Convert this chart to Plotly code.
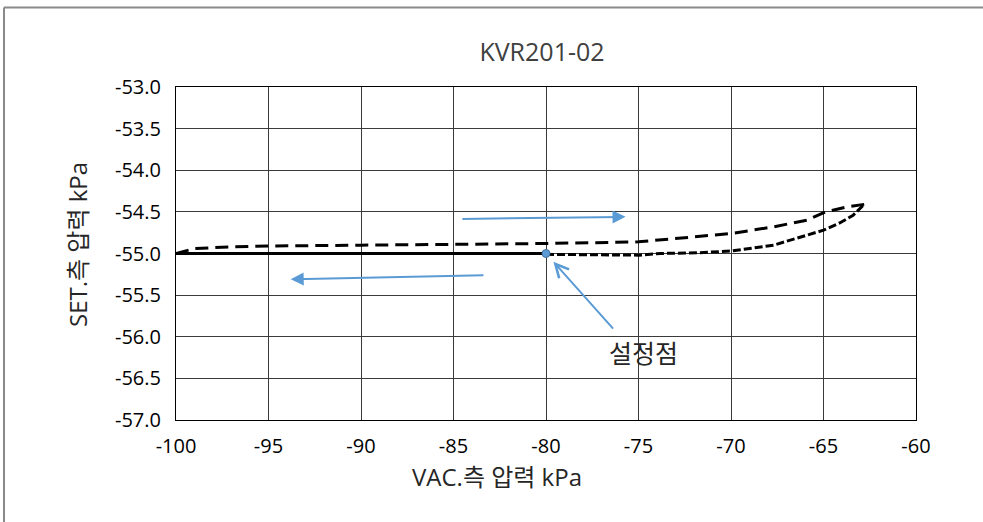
import plotly.graph_objects as go

# Data
solid_x = [-100, -90, -80]
solid_y = [-55.0, -55.0, -55.0]

up_x = [-100, -99, -97, -95, -90, -85, -80, -75, -72.7, -70, -67.7, -65.9, -64.9, -63.7, -62.8]
up_y = [-55.0, -54.94, -54.92, -54.91, -54.90, -54.89, -54.88, -54.86, -54.81, -54.76, -54.68, -54.60, -54.50, -54.44, -54.41]

lo_x = [-80, -77, -75, -73.8, -71.7, -70, -67.7, -65.9, -65.0, -64.1, -63.4, -62.8]
lo_y = [-55.01, -55.02, -55.02, -55.0, -54.99, -54.97, -54.90, -54.78, -54.72, -54.63, -54.54, -54.41]

set_x = [-80]
set_y = [-55.0]

x_ticks = [-100, -95, -90, -85, -80, -75, -70, -65, -60]
x_ticklabels = ["-100", "-95", "-90", "-85", "-80", "-75", "-70", "-65", "-60"]
y_ticks = [-57.0, -56.5, -56.0, -55.5, -55.0, -54.5, -54.0, -53.5, -53.0]
y_ticklabels = ["-57.0", "-56.5", "-56.0", "-55.5", "-55.0", "-54.5", "-54.0", "-53.5", "-53.0"]

title = "KVR201-02"
x_title = "VAC.측 압력 kPa"
y_title = "SET.측 압력 kPa"
note = "설정점"

FONT = "Open Sans, Noto Sans CJK KR, sans-serif"
BLUE = "#5b9bd5"

fig = go.Figure()
fig.add_trace(go.Scatter(x=up_x, y=up_y, mode="lines",
                         line=dict(color="black", width=3, dash="13px,7px")))
fig.add_trace(go.Scatter(x=lo_x, y=lo_y, mode="lines",
                         line=dict(color="black", width=3, dash="8px,3px")))
fig.add_trace(go.Scatter(x=solid_x, y=solid_y, mode="lines",
                         line=dict(color="black", width=3)))
fig.add_trace(go.Scatter(x=set_x, y=set_y, mode="markers",
                         marker=dict(color=BLUE, size=8, line=dict(color="#41719c", width=1))))

arrows = [
    # (head_x, head_y, tail_x, tail_y, head)
    (-75.7, -54.56, -84.6, -54.585, 2),
    (-93.8, -55.31, -83.3, -55.26, 2),
    (-79.6, -55.10, -76.3, -55.92, 5),
]
for hx, hy, tx, ty, hd in arrows:
    fig.add_annotation(x=hx, y=hy, ax=tx, ay=ty, xref="x", yref="y", axref="x", ayref="y",
                       text="", showarrow=True, arrowhead=hd, arrowsize=1.3,
                       arrowwidth=2, arrowcolor=BLUE)

fig.add_annotation(x=-74.75, y=-56.2, xref="x", yref="y", text=note, showarrow=False,
                   xanchor="center", yanchor="middle",
                   font=dict(family=FONT, size=25, color="#262626"))

fig.add_annotation(x=(497 - 176) / 740, y=(420 - 476) / 333, xref="paper", yref="paper",
                   text=x_title, showarrow=False, xanchor="center", yanchor="middle",
                   font=dict(family=FONT, size=24, color="#262626"))
fig.add_annotation(x=(77 - 176) / 740, y=(420 - 245) / 333, xref="paper", yref="paper",
                   text=y_title, showarrow=False, textangle=-90, xanchor="center", yanchor="middle",
                   font=dict(family=FONT, size=24, color="#262626"))

# outer frame
fig.add_shape(type="line", xref="paper", yref="paper",
              x0=(4 - 176) / 740, x1=(983 - 176) / 740,
              y0=(420 - 7.5) / 333, y1=(420 - 7.5) / 333,
              line=dict(color="#8a8a8a", width=2))
fig.add_shape(type="line", xref="paper", yref="paper",
              x0=(4 - 176) / 740, x1=(4 - 176) / 740,
              y0=(420 - 7.5) / 333, y1=(420 - 530) / 333,
              line=dict(color="#8a8a8a", width=2))

fig.update_layout(
    width=983, height=522,
    margin=dict(l=176, r=67, t=87, b=102),
    paper_bgcolor="white", plot_bgcolor="white",
    showlegend=False,
    title=dict(text=title, x=542 / 983, xanchor="center", y=1 - 52 / 522, yanchor="middle",
               font=dict(family=FONT, size=25, color="#404040")),
    xaxis=dict(range=[-100, -60], tickvals=x_ticks, ticktext=x_ticklabels, showgrid=True,
               gridcolor="#3a3a3a", gridwidth=1, showline=True, linecolor="black", linewidth=1,
               mirror=True, zeroline=False, ticks="", ticklabelstandoff=8,
               tickfont=dict(family=FONT, size=20, color="black")),
    yaxis=dict(range=[-57, -53], tickvals=y_ticks, ticktext=y_ticklabels, showgrid=True,
               gridcolor="#3a3a3a", gridwidth=1, showline=True, linecolor="black", linewidth=1,
               mirror=True, zeroline=False, ticks="", ticklabelstandoff=10,
               tickfont=dict(family=FONT, size=20, color="black")),
)

fig.write_html("out.html", config={"displayModeBar": False},
               post_script="document.body.style.margin='0';document.body.style.padding='0';")
